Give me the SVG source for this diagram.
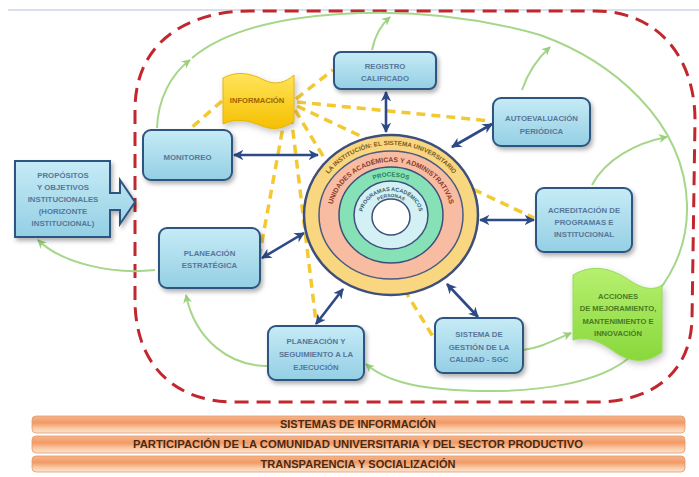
<svg xmlns="http://www.w3.org/2000/svg" width="699" height="477" viewBox="0 0 699 477">
<defs>
<style>
.box{fill:url(#boxGrad);stroke:#2F5580;stroke-width:2;filter:url(#shadow)}
.lbl{font-family:"Liberation Sans",Arial,sans-serif;font-weight:bold;font-size:7.8px;fill:#56779A;text-anchor:middle}
.blue{fill:none;stroke:#2E4A86;stroke-width:2.6;marker-start:url(#bArr);marker-end:url(#bArr)}
.green{fill:none;stroke:#A6D68A;stroke-width:2}
.garr{marker-end:url(#gArr)}
.yel{fill:none;stroke:#F2C933;stroke-width:3.5;stroke-dasharray:9 6}
.bar{fill:url(#barGrad);stroke:#E39A70;stroke-width:0.8}
.barTxt{font-family:"Liberation Sans",Arial,sans-serif;font-weight:bold;font-size:10.5px;fill:#4A2A12;text-anchor:middle}
.ring{font-family:"Liberation Sans",Arial,sans-serif;font-weight:bold;text-anchor:middle}
.ban{font-family:"Liberation Sans",Arial,sans-serif;font-weight:bold;font-size:7.6px;text-anchor:middle}
</style>
<linearGradient id="boxGrad" x1="0" y1="0" x2="0" y2="1">
<stop offset="0" stop-color="#C6EBF6"/>
<stop offset="1" stop-color="#94CFE4"/>
</linearGradient>
<linearGradient id="barGrad" x1="0" y1="0" x2="0" y2="1">
<stop offset="0" stop-color="#F7B48A"/>
<stop offset="0.4" stop-color="#F29A66"/>
<stop offset="0.75" stop-color="#F9CDAA"/>
<stop offset="1" stop-color="#FBE3CE"/>
</linearGradient>
<linearGradient id="yelGrad" x1="0" y1="0" x2="0" y2="1">
<stop offset="0" stop-color="#FFE55A"/>
<stop offset="1" stop-color="#F5BF00"/>
</linearGradient>
<linearGradient id="grnGrad" x1="0" y1="0" x2="0" y2="1">
<stop offset="0" stop-color="#B6F070"/>
<stop offset="1" stop-color="#88D83C"/>
</linearGradient>
<filter id="shadow" x="-20%" y="-20%" width="150%" height="160%">
<feDropShadow dx="2" dy="3" stdDeviation="2" flood-color="#000" flood-opacity="0.3"/>
</filter>
<filter id="glow" x="-20%" y="-20%" width="140%" height="140%">
<feDropShadow dx="2" dy="3" stdDeviation="3" flood-color="#555" flood-opacity="0.35"/>
</filter>
<marker id="bArr" viewBox="0 0 10 10" refX="9" refY="5" markerWidth="4" markerHeight="4" orient="auto-start-reverse" markerUnits="strokeWidth">
<path d="M0,0 L10,5 L0,10 L3,5 Z" fill="#2E4A86"/>
</marker>
<marker id="gArr" viewBox="0 0 10 10" refX="9" refY="5" markerWidth="4.5" markerHeight="4.5" orient="auto" markerUnits="strokeWidth">
<path d="M0,0 L10,5 L0,10 L3,5 Z" fill="#9ACF7C"/>
</marker>
<path id="rp1" d="M314,215 A77 70 0 0 1 468,215"/>
<path id="rp2" d="M331,217 A60 55 0 0 1 451,217"/>
<path id="rp3" d="M348.5,215 A42.5 38.5 0 0 1 433.5,215"/>
<path id="rp4" d="M362,217 A29 26 0 0 1 420,217"/>
<path id="rp5" d="M370,217 A21 20 0 0 1 412,217"/>
</defs>

<rect x="0" y="0" width="699" height="477" fill="#FFFFFF"/>
<line x1="8" y1="10" x2="699" y2="10" stroke="#AFC0DC" stroke-width="1"/>

<g id="boundary">
<path d="M135,300 L135,110 C135,40 190,11 250,11 L595,11 C660,11 695,60 695,120 L692,320 C690,375 650,402 595,402 L235,402 C170,402 135,360 135,300 Z" fill="none" stroke="#C1272D" stroke-width="3" stroke-dasharray="14 8"/>
</g>

<g id="connectors">
<path class="yel" d="M222,101 L190,129"/>
<path class="yel" d="M296,99 L333,70"/>
<path class="yel" d="M297,102 L491,121"/>
<path class="yel" d="M297,106 L534,218"/>
<path class="yel" d="M295,110 L435,340"/>
<path class="yel" d="M291,115 L316,322"/>
<path class="yel" d="M285,116 L259,258"/>
<path class="green" d="M657,293 C675,270 688,240 687,205 C685,120 610,60 540,35 C470,15 400,10 340,14 C280,18 225,30 192,58"/>
<path class="green garr" d="M157,128 C158,100 170,75 190,60"/>
<path class="green garr" d="M372,50 C375,35 382,24 390,17"/>
<path class="green garr" d="M522,90 C528,72 538,58 550,47"/>
<path class="green garr" d="M592,185 C605,160 635,143 667,137"/>
<path class="green garr" d="M630,357 C600,383 540,392 480,391 C430,390 390,385 366,364"/>
<path class="green garr" d="M523,350 C540,348 555,340 571,333"/>
<path class="green garr" d="M267,366 C230,366 195,340 186,295"/>
<path class="green garr" d="M155,270 C110,275 60,262 38,240"/>
<path class="blue" d="M234,155 L318,155"/>
<path class="blue" d="M386,92 L386,132"/>
<path class="blue" d="M492,124 L452,147"/>
<path class="blue" d="M534,220 L480,220"/>
<path class="blue" d="M262,258 L304,233"/>
<path class="blue" d="M316,324 L343,289"/>
<path class="blue" d="M478,317 L447,284"/>
</g>

<g id="n-institucion">
<ellipse cx="391" cy="215" rx="87" ry="80" fill="#F9D680" stroke="#3D4F7A" stroke-width="2.5"/>
<ellipse cx="391" cy="215" rx="72" ry="64" fill="#F8BCA2" stroke="#4A5A80" stroke-width="1.5"/>
<ellipse cx="391" cy="215" rx="52" ry="48" fill="#86E2B6" stroke="#3D4F7A" stroke-width="1.5"/>
<ellipse cx="391" cy="215" rx="37" ry="34" fill="#D3F1F4" stroke="#3D4F7A" stroke-width="1.5"/>
<ellipse cx="391" cy="217" rx="19" ry="18" fill="#FFFFFF" stroke="#3D4F7A" stroke-width="1.5"/>
<text class="ring" font-size="6.3" fill="#7A5A20"><textPath href="#rp1" startOffset="50%">LA INSTITUCIÓN: EL SISTEMA UNIVERSITARIO</textPath></text>
<text class="ring" font-size="6.9" fill="#8A3A2A"><textPath href="#rp2" startOffset="50%">UNIDADES ACADÉMICAS Y ADMINISTRATIVAS</textPath></text>
<text class="ring" font-size="6.3" fill="#2A7A50"><textPath href="#rp3" startOffset="50%">PROCESOS</textPath></text>
<text class="ring" font-size="5.5" fill="#3A5A6A"><textPath href="#rp4" startOffset="50%">PROGRAMAS ACADÉMICOS</textPath></text>
<text class="ring" font-size="4.8" fill="#3A5A6A"><textPath href="#rp5" startOffset="50%">PERSONAS</textPath></text>
</g>

<g id="n-propositos">
<path class="box" d="M15,161 L110,161 L110,193 L120,193 L120,180 L135,202 L120,224 L120,210 L110,210 L110,237 L15,237 Z"/>
<text class="lbl" x="63" y="178">PROPÓSITOS</text>
<text class="lbl" x="63" y="190">Y OBJETIVOS</text>
<text class="lbl" x="63" y="202">INSTITUCIONALES</text>
<text class="lbl" x="63" y="214">(HORIZONTE</text>
<text class="lbl" x="63" y="226">INSTITUCIONAL)</text>
</g>

<g id="n-monitoreo">
<rect class="box" x="143" y="130" width="89" height="50" rx="8"/>
<text class="lbl" x="187.5" y="160">MONITOREO</text>
</g>

<g id="n-registro">
<rect class="box" x="334" y="52" width="102" height="37" rx="7"/>
<text class="lbl" x="385" y="69">REGISTRO</text>
<text class="lbl" x="385" y="81">CALIFICADO</text>
</g>

<g id="n-autoevaluacion">
<rect class="box" x="493" y="98" width="97" height="48" rx="8"/>
<text class="lbl" x="541.5" y="121">AUTOEVALUACIÓN</text>
<text class="lbl" x="541.5" y="134">PERIÓDICA</text>
</g>

<g id="n-acreditacion">
<rect class="box" x="536" y="188" width="96" height="64" rx="8"/>
<text class="lbl" x="584" y="213">ACREDITACIÓN DE</text>
<text class="lbl" x="584" y="225">PROGRAMAS E</text>
<text class="lbl" x="584" y="237">INSTITUCIONAL</text>
</g>

<g id="n-planeacion-estrategica">
<rect class="box" x="159" y="228" width="101" height="60" rx="8"/>
<text class="lbl" x="209.5" y="256">PLANEACIÓN</text>
<text class="lbl" x="209.5" y="268">ESTRATÉGICA</text>
</g>

<g id="n-planeacion-seguimiento">
<rect class="box" x="268" y="326" width="96" height="54" rx="8"/>
<text class="lbl" x="316" y="344">PLANEACIÓN Y</text>
<text class="lbl" x="316" y="357">SEGUIMIENTO A LA</text>
<text class="lbl" x="316" y="370">EJECUCIÓN</text>
</g>

<g id="n-sgc">
<rect class="box" x="435" y="318" width="88" height="55" rx="8"/>
<text class="lbl" x="479" y="337">SISTEMA DE</text>
<text class="lbl" x="479" y="350">GESTIÓN DE LA</text>
<text class="lbl" x="479" y="362">CALIDAD - SGC</text>
</g>

<g id="n-informacion">
<path d="M223,78 C238,70 252,74 264,80 C276,86 286,82 294,75 L294,121 C285,128 274,131 262,126 C248,120 236,118 223,124 Z" fill="url(#yelGrad)" stroke="#E8B400" stroke-width="1" filter="url(#glow)"/>
<text class="ban" x="257" y="103" font-size="7.4" fill="#9A6400">INFORMACIÓN</text>
</g>

<g id="n-acciones">
<path d="M573,275 C595,262 615,270 632,282 C645,290 655,290 662,285 L662,352 C645,365 628,362 612,350 C598,340 585,336 573,340 Z" fill="url(#grnGrad)" stroke="#9ADB5A" stroke-width="1" filter="url(#glow)"/>
<text class="ban" x="618" y="299" fill="#4A7A22">ACCIONES</text>
<text class="ban" x="618" y="311" fill="#4A7A22">DE MEJORAMIENTO,</text>
<text class="ban" x="618" y="324" fill="#4A7A22">MANTENIMIENTO E</text>
<text class="ban" x="618" y="336" fill="#4A7A22">INNOVACIÓN</text>
</g>

<g id="bars">
<rect class="bar" x="32" y="416" width="653" height="17" rx="4"/>
<text class="barTxt" x="358" y="428" textLength="156" lengthAdjust="spacingAndGlyphs">SISTEMAS DE INFORMACIÓN</text>
<rect class="bar" x="32" y="436" width="653" height="17" rx="4"/>
<text class="barTxt" x="358" y="448" textLength="450" lengthAdjust="spacingAndGlyphs">PARTICIPACIÓN DE LA COMUNIDAD UNIVERSITARIA Y DEL SECTOR PRODUCTIVO</text>
<rect class="bar" x="32" y="456" width="653" height="16" rx="4"/>
<text class="barTxt" x="358" y="468" textLength="195" lengthAdjust="spacingAndGlyphs">TRANSPARENCIA Y SOCIALIZACIÓN</text>
</g>
</svg>
